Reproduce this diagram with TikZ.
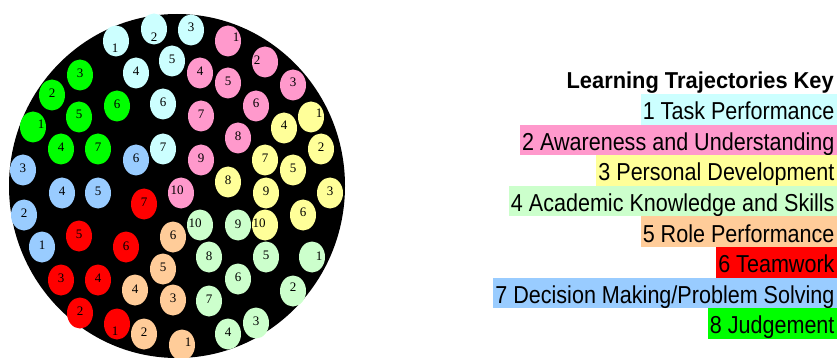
\documentclass[tikz,border=0pt]{standalone}
\usepackage{fontspec}
\usetikzlibrary{shapes.geometric}
\newfontfamily\keyfont[FakeStretch=0.88]{Liberation Sans}
\newfontfamily\titlefont[FakeStretch=0.95]{Liberation Sans}
\newfontfamily\numfont{Liberation Serif}

\definecolor{trCyan}{HTML}{CCFFFF}
\definecolor{trPink}{HTML}{FF99CC}
\definecolor{trYellow}{HTML}{FFFF99}
\definecolor{trLgreen}{HTML}{CCFFCC}
\definecolor{trPeach}{HTML}{FFCC99}
\definecolor{trRed}{HTML}{FF0000}
\definecolor{trBlue}{HTML}{99CCFF}
\definecolor{trGreen}{HTML}{00FF00}

\tikzset{
  disc/.style={ellipse, fill=black, inner sep=0pt, minimum width=336pt, minimum height=344pt},
  dot/.style={ellipse, inner sep=0pt, minimum width=26pt, minimum height=31pt},
  num/.style={inner sep=0pt, font=\numfont\fontsize{13}{13}\selectfont},
  keyline/.style={anchor=base east, inner xsep=2pt, inner ysep=0pt,
    text height=25.6pt, text depth=5pt,
    font=\keyfont\fontsize{24.5}{24.5}\selectfont},
  keytitle/.style={anchor=base east, inner sep=0pt,
    font=\titlefont\bfseries\fontsize{23}{23}\selectfont},
}

\begin{document}
\begin{tikzpicture}[x=1pt, y=-1pt]
\useasboundingbox (0,0) rectangle (840,358);

% the black disc holding all trajectory points
\node[disc] (disc) at (177,186) {};

% trajectory points: x / y / number / label dx / label dy
\foreach \px/\py/\n/\dx/\dy/\col/\grp in {
  116/41/1/-1/7/trCyan/cy, 154/29/2/0/8/trCyan/cy, 191/30/3/0/-3/trCyan/cy,
  136/73/4/0/-2/trCyan/cy, 172/61/5/0/-2/trCyan/cy, 163/104/6/0/-2/trCyan/cy,
  163/149/7/0/-2/trCyan/cy,
  228/41/1/8/-4/trPink/pk, 265/62/2/-8/-2/trPink/pk, 293/85/3/0/-3/trPink/pk,
  200/73/4/0/-2/trPink/pk, 228/83/5/0/-2/trPink/pk, 256/106/6/0/-3/trPink/pk,
  201/116/7/0/-2/trPink/pk, 238/138/8/0/-2/trPink/pk, 201/160/9/0/-2/trPink/pk,
  181/193/10/-4/-3/trPink/pk,
  311/117/1/8/-4/trYellow/yl, 321/149/2/0/-2/trYellow/yl, 330/193/3/0/-2/trYellow/yl,
  284/128/4/0/-3/trYellow/yl, 293/170/5/0/-2/trYellow/yl, 303/215/6/0/-3/trYellow/yl,
  265/160/7/0/-2/trYellow/yl, 228/182/8/0/-2/trYellow/yl, 266/193/9/0/-2/trYellow/yl,
  265/225/10/-6/-2/trYellow/yl,
  312/257/1/7/-1/trLgreen/lg, 293/291/2/0/-4/trLgreen/lg, 256/323/3/0/-2/trLgreen/lg,
  228/334/4/0/-2/trLgreen/lg, 266/257/5/0/-2/trLgreen/lg, 238/279/6/0/-2/trLgreen/lg,
  209/301/7/0/-2/trLgreen/lg, 209/257/8/0/-1/trLgreen/lg, 238/225/9/0/-1/trLgreen/lg,
  200/225/10/-5/-2/trLgreen/lg,
  182/345/1/6/-3/trPeach/pe, 144/334/2/0/-2/trPeach/pe, 173/300/3/0/-2/trPeach/pe,
  135/290/4/0/-1/trPeach/pe, 163/269/5/0/-2/trPeach/pe, 173/237/6/0/-2/trPeach/pe,
  117/324/1/-2/7/trRed/rd, 80/313/2/0/-2/trRed/rd, 61/280/3/0/-2/trRed/rd,
  98/280/4/0/-2/trRed/rd, 79/236/5/0/-2/trRed/rd, 126/247/6/0/-1/trRed/rd,
  144/204/7/0/-2/trRed/rd,
  42/247/1/0/-2/trBlue/bl, 24/215/2/0/-2/trBlue/bl, 23/170/3/0/-2/trBlue/bl,
  62/193/4/0/-2/trBlue/bl, 98/193/5/0/-2/trBlue/bl, 136/160/6/0/-2/trBlue/bl,
  33/127/1/8/-3/trGreen/gr, 52/95/2/0/-2/trGreen/gr, 80/75/3/0/-2/trGreen/gr,
  61/149/4/0/-2/trGreen/gr, 79/117/5/0/-3/trGreen/gr, 117/106/6/0/-2/trGreen/gr,
  98/149/7/0/-2/trGreen/gr}
{
  \node[dot, fill=\col] (\grp-\n) at (\px,\py) {};
  \node[num] (\grp-\n-t) at ([shift={(\dx,\dy)}]\grp-\n.center) {\n};
}

% key
\node[keytitle] (keyhead) at (834,88.3) {Learning Trajectories Key};
\node[keyline, fill=trCyan]   (key1) at (836.7,119.6) {1 Task Performance};
\node[keyline, fill=trPink]   (key2) at (836.7,150.2) {2 Awareness and Understanding};
\node[keyline, fill=trYellow] (key3) at (836.7,180.8) {3 Personal Development};
\node[keyline, fill=trLgreen] (key4) at (836.7,211.4) {4 Academic Knowledge and Skills};
\node[keyline, fill=trPeach]  (key5) at (836.7,242.0) {5 Role Performance};
\node[keyline, fill=trRed]    (key6) at (836.7,272.6) {6 Teamwork};
\node[keyline, fill=trBlue]   (key7) at (836.7,303.2) {7 Decision Making/Problem Solving};
\node[keyline, fill=trGreen]  (key8) at (836.7,333.8) {8 Judgement};
\end{tikzpicture}
\end{document}
